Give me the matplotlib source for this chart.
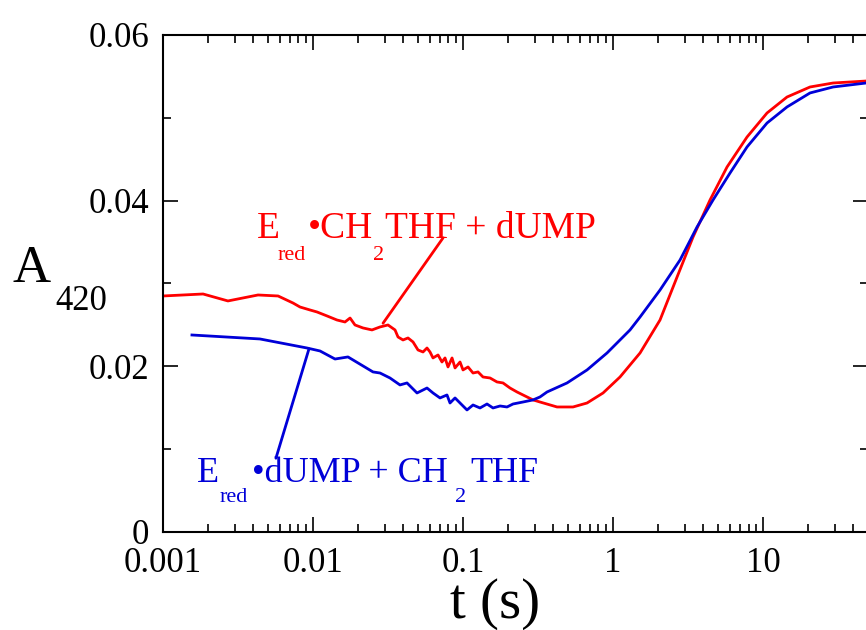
import matplotlib
matplotlib.use("Agg")
import matplotlib.pyplot as plt
from matplotlib.ticker import LogLocator, MultipleLocator, NullFormatter

plt.rcParams["font.family"] = ["Liberation Serif", "DejaVu Serif"]

RED = "#ff0000"
BLUE = "#0000d8"

# E_red·CH2THF + dUMP (red trace)
red_t = [0.001, 0.00185, 0.00271, 0.0043, 0.00585, 0.00736, 0.00819, 0.00955,
         0.01063, 0.01240, 0.01445, 0.01634, 0.01766, 0.01905, 0.02154, 0.02473,
         0.02798, 0.03162, 0.03522, 0.03687, 0.03981, 0.04299, 0.04642, 0.05012,
         0.05412, 0.05754, 0.06026, 0.0631, 0.06813, 0.0724, 0.07586, 0.07943,
         0.0845, 0.08846, 0.0955, 0.1, 0.1080, 0.1166, 0.1259, 0.1359, 0.1514,
         0.1685, 0.1848, 0.2057, 0.2291, 0.2512, 0.2929, 0.326, 0.4234, 0.541,
         0.671, 0.858, 1.113, 1.514, 2.057, 2.672, 3.415, 4.433, 5.754, 7.82,
         10.63, 14.45, 20.57, 29.3, 48.6]
red_a = [0.02849, 0.02873, 0.02789, 0.02861, 0.02849, 0.02764, 0.02716, 0.02680,
         0.02656, 0.02608, 0.02559, 0.02535, 0.02583, 0.02499, 0.02463, 0.02439,
         0.02475, 0.02499, 0.02439, 0.02354, 0.02318, 0.02342, 0.02294, 0.02197,
         0.02173, 0.02221, 0.02173, 0.02101, 0.02137, 0.02052, 0.02101, 0.01992,
         0.02101, 0.01980, 0.02052, 0.01956, 0.01992, 0.01919, 0.01932, 0.01871,
         0.01859, 0.01811, 0.01799, 0.01738, 0.01690, 0.01654, 0.01594, 0.01569,
         0.01509, 0.01509, 0.01557, 0.01678, 0.01871, 0.02161, 0.02559, 0.03078,
         0.03561, 0.04008, 0.04406, 0.04768, 0.05058, 0.05251, 0.05372, 0.05420,
         0.05444]

# E_red·dUMP + CH2THF (blue trace)
blue_t = [0.00156, 0.00443, 0.00912, 0.01114, 0.01402, 0.01711, 0.02512, 0.02798,
          0.0326, 0.0380, 0.04233, 0.04936, 0.05754, 0.0631, 0.07025, 0.0782,
          0.08190, 0.08846, 0.09848, 0.1063, 0.1166, 0.1298, 0.1445, 0.1585,
          0.1766, 0.1965, 0.2154, 0.2512, 0.2929, 0.326, 0.3631, 0.4937, 0.671,
          0.912, 1.298, 1.514, 2.057, 2.798, 3.631, 4.642, 6.026, 7.82, 10.63,
          14.45, 20.57, 29.3, 48.6]
blue_a = [0.02378, 0.02330, 0.02221, 0.02185, 0.02088, 0.02113, 0.01932, 0.01919,
          0.01859, 0.01775, 0.01799, 0.01678, 0.01738, 0.01678, 0.01618, 0.01654,
          0.01557, 0.01618, 0.01533, 0.01473, 0.01533, 0.01497, 0.01545, 0.01497,
          0.01521, 0.01509, 0.01545, 0.01569, 0.01594, 0.01630, 0.01690, 0.01799,
          0.01956, 0.02161, 0.02439, 0.02595, 0.02921, 0.03284, 0.03682, 0.04008,
          0.04334, 0.04648, 0.04937, 0.05131, 0.05300, 0.05372, 0.05420]

x_ticks = [0.001, 0.01, 0.1, 1, 10]
x_labels = ["0.001", "0.01", "0.1", "1", "10"]
y_ticks = [0, 0.02, 0.04, 0.06]
y_labels = ["0", "0.02", "0.04", "0.06"]

fig = plt.figure(figsize=(8.66, 6.3), dpi=100)
ax = fig.add_axes([0.1882, 0.1556, 0.814, 0.7889])

ax.plot(red_t, red_a, color=RED, lw=2.0)
ax.plot(blue_t, blue_a, color=BLUE, lw=2.0)

ax.set_xscale("log")
ax.set_xlim(0.001, 50)
ax.set_ylim(0, 0.06)
ax.set_xticks(x_ticks)
ax.set_xticklabels(x_labels)
ax.xaxis.set_minor_locator(LogLocator(base=10, subs=range(2, 10)))
ax.xaxis.set_minor_formatter(NullFormatter())
ax.set_yticks(y_ticks)
ax.set_yticklabels(y_labels, va="center_baseline")
ax.yaxis.set_minor_locator(MultipleLocator(0.01))

for s in ax.spines.values():
    s.set_linewidth(1.5)
ax.tick_params(which="both", direction="in", top=True, right=True, width=1.2,
               labelsize=25)
ax.tick_params(which="major", length=11, pad=10)
ax.tick_params(axis="x", which="major", pad=11)
ax.tick_params(which="minor", length=5.5)

# leader lines from labels to curves
ax.annotate("", xy=(0.0293, 0.0252), xytext=(0.0736, 0.0355),
            arrowprops=dict(arrowstyle="-", color=RED, lw=2.0, shrinkA=0, shrinkB=0))
ax.annotate("", xy=(0.0094, 0.0221), xytext=(0.00566, 0.0089),
            arrowprops=dict(arrowstyle="-", color=BLUE, lw=2.0, shrinkA=0, shrinkB=0))

# curve labels
fig.text(0.2968, 0.6222, "E", color=RED, fontsize=27, va="baseline")
fig.text(0.3210, 0.5873, "red", color=RED, fontsize=16, va="baseline")
fig.text(0.3557, 0.6222, "\u2022CH", color=RED, fontsize=27, va="baseline")
fig.text(0.4307, 0.5873, "2", color=RED, fontsize=16, va="baseline")
fig.text(0.4446, 0.6222, "THF + dUMP", color=RED, fontsize=27, va="baseline")

fig.text(0.2275, 0.2349, "E", color=BLUE, fontsize=26, va="baseline")
fig.text(0.2540, 0.2032, "red", color=BLUE, fontsize=16, va="baseline")
fig.text(0.2910, 0.2349, "\u2022dUMP + CH", color=BLUE, fontsize=26, va="baseline")
fig.text(0.5254, 0.2032, "2", color=BLUE, fontsize=16, va="baseline")
fig.text(0.5427, 0.2349, "THF", color=BLUE, fontsize=26, va="baseline")

# axis labels
fig.text(0.0139, 0.5524, "A", fontsize=38, va="baseline")
fig.text(0.0635, 0.5079, "420", fontsize=25, va="baseline")
fig.text(0.5716, 0.02, "t (s)", fontsize=41, va="baseline", ha="center")

fig.savefig("out.png", dpi=100)
